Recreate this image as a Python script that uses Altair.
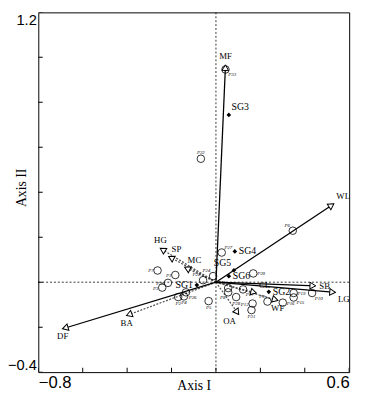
import altair as alt
import pandas as pd
import numpy as np

# ---- environmental vectors (biplot arrows) ----
vec_names = ["MF", "WL", "DF", "LG", "SB", "HG", "SP", "MC", "BA", "OA", "CL", "WF"]
vec_x = [0.043, 0.530, -0.690, 0.537, 0.448, -0.250, -0.212, -0.140, -0.402, 0.102, 0.181, 0.278]
vec_y = [0.966, 0.348, -0.207, -0.045, -0.016, 0.150, 0.114, 0.066, -0.148, -0.143, -0.048, -0.081]
vec_kind = ["solid", "solid", "solid", "solid", "solid",
            "dotted", "dotted", "dotted", "dotted", "dotted", "dotted", "dotted"]
vec_side = ["t", "tr", "b", "br", "r", "t", "tr", "tr", "b", "bl", "tr", "b"]

# ---- sites (open circles) ----
site_names = ["P33", "P32", "P6", "P27", "P24", "P20", "P22", "P1", "P7", "P30", "P3", "P26",
              "P2", "P4", "P5", "P11", "P8", "P28", "P17", "P12", "P31", "P9", "P16", "P19",
              "P15", "P10"]
site_x = [0.043, -0.068, 0.346, 0.026, -0.013, 0.168, -0.058, -0.183, -0.263, -0.216, -0.242, -0.135,
          -0.170, -0.144, -0.033, 0.055, 0.055, 0.091, 0.122, 0.165, 0.160, 0.232, 0.301, 0.350,
          0.350, 0.433]
site_y = [0.946, 0.549, 0.229, 0.132, 0.027, 0.039, 0.009, 0.032, 0.052, -0.003, -0.024, -0.045,
          -0.066, -0.063, -0.084, -0.026, -0.045, -0.066, -0.032, -0.095, -0.124, -0.086, -0.091, -0.048,
          -0.068, -0.048]
site_side = ["br", "t", "tl", "tr", "tl", "r", "tl", "l", "l", "l", "l", "br",
             "b", "b", "b", "tl", "bl", "b", "br", "l", "b", "tl", "r", "r",
             "br", "br"]

# ---- species groups (filled diamonds) ----
sg_names = ["SG3", "SG4", "SG5", "SG6", "SG1", "SG2"]
sg_x = [0.058, 0.085, 0.081, 0.058, -0.086, 0.238]
sg_y = [0.744, 0.137, 0.053, 0.027, -0.013, -0.043]
sg_side = ["tr", "r", "tl", "r", "l", "r"]

# ---- axes ----
x_domain = [-0.8, 0.6]
y_domain = [-0.4, 1.2]
x_tick_values = [-0.8, -0.6, -0.4, -0.2, 0.0, 0.2, 0.4, 0.6]
y_tick_values = [-0.4, -0.2, 0.0, 0.2, 0.4, 0.6, 0.8, 1.0, 1.2]
x_label_values = [-0.8, 0.6]
y_label_values = [-0.4, 1.2]

SERIF = "Liberation Serif"
SANS = "Liberation Sans"

xs = alt.Scale(domain=x_domain, nice=False, zero=False)
ys = alt.Scale(domain=y_domain, nice=False, zero=False)
xaxis = alt.Axis(values=x_label_values, title="Axis I", grid=False, ticks=False, domain=False,
                 labelFlush=True, labelFont=SANS, labelFontSize=17, labelColor="black",
                 labelPadding=3, format=".1f",
                 titleFont=SERIF, titleFontSize=14, titleFontWeight="normal", titleColor="black",
                 titleX=159, titleY=18, titleBaseline="alphabetic", titleAlign="center")
yaxis = alt.Axis(values=y_label_values, title="Axis II", grid=False, ticks=False, domain=False,
                 labelFlush=True, labelFont=SANS, labelFontSize=15, labelColor="black",
                 labelPadding=2, format=".1f",
                 titleFont=SERIF, titleFontSize=14, titleFontWeight="normal", titleColor="black",
                 titleX=-17, titleY=179, titleAngle=270, titleBaseline="middle", titleAlign="center")


def X(f):
    return alt.X(f, type="quantitative", scale=xs, axis=xaxis)


def Y(f):
    return alt.Y(f, type="quantitative", scale=ys, axis=yaxis)


vec = pd.DataFrame({"name": vec_names, "x": vec_x, "y": vec_y, "kind": vec_kind, "side": vec_side})
vec["x0"] = 0.0
vec["y0"] = 0.0
length = np.sqrt(vec["x"] ** 2 + vec["y"] ** 2)
vec["hx"] = vec["x"] - 0.016 * vec["x"] / length
vec["hy"] = vec["y"] - 0.016 * vec["y"] / length
vec["angle"] = np.degrees(np.arctan2(vec["x"], vec["y"])) % 360

sites = pd.DataFrame({"name": site_names, "x": site_x, "y": site_y, "side": site_side})
sgs = pd.DataFrame({"name": sg_names, "x": sg_x, "y": sg_y, "side": sg_side})

zero = pd.DataFrame({"v": [0.0]})
xt = pd.DataFrame({"x": x_tick_values, "y": [y_domain[0]] * len(x_tick_values)})
yt = pd.DataFrame({"y": y_tick_values, "x": [x_domain[0]] * len(y_tick_values)})

layers = []
# dotted zero lines
layers.append(alt.Chart(zero).mark_rule(color="black", strokeWidth=0.8, strokeDash=[2, 2]).encode(x=X("v")))
layers.append(alt.Chart(zero).mark_rule(color="black", strokeWidth=0.8, strokeDash=[2, 2]).encode(y=Y("v")))
# inward ticks
layers.append(alt.Chart(xt).mark_tick(orient="vertical", size=9, thickness=1, color="black",
                                      opacity=1, clip=True).encode(x=X("x"), y=Y("y")))
layers.append(alt.Chart(yt).mark_tick(orient="horizontal", size=9, thickness=1, color="black",
                                      opacity=1, clip=True).encode(x=X("x"), y=Y("y")))
# arrow shafts
layers.append(alt.Chart(vec[vec.kind == "dotted"]).mark_rule(color="#555555", strokeWidth=1.3,
                                                             strokeDash=[2, 1.5]).encode(
    x=X("x0"), y=Y("y0"), x2="x", y2="y"))
layers.append(alt.Chart(vec[vec.kind == "solid"]).mark_rule(color="black", strokeWidth=1.3).encode(
    x=X("x0"), y=Y("y0"), x2="x", y2="y"))
# arrow heads
layers.append(alt.Chart(vec).mark_point(shape="triangle", filled=True, fill="white", stroke="black",
                                        strokeWidth=1, size=45, opacity=1).encode(
    x=X("hx"), y=Y("hy"), angle=alt.Angle("angle:Q", scale=None)))
# sites
layers.append(alt.Chart(sites).mark_point(shape="circle", filled=False, color="black",
                                          strokeWidth=0.8, size=60, opacity=1).encode(x=X("x"), y=Y("y")))
# groups
layers.append(alt.Chart(sgs).mark_point(shape="diamond", filled=True, color="black",
                                        size=22, opacity=1).encode(x=X("x"), y=Y("y")))

side_spec = {
    "r": (1, 0, "left", "middle"), "l": (-1, 0, "right", "middle"),
    "t": (0, -1, "center", "bottom"), "b": (0, 1, "center", "top"),
    "tr": (0.7, -0.7, "left", "bottom"), "tl": (-0.7, -0.7, "right", "bottom"),
    "br": (0.7, 0.7, "left", "top"), "bl": (-0.7, 0.7, "right", "top"),
}


def text_layers(df, off, size, style="normal"):
    out = []
    for s, (fx, fy, al, bl) in side_spec.items():
        sub = df[df.side == s]
        if len(sub) == 0:
            continue
        out.append(alt.Chart(sub).mark_text(dx=fx * off, dy=fy * off, align=al, baseline=bl,
                                            font=SERIF, fontSize=size, fontStyle=style,
                                            color="black").encode(x=X("x"), y=Y("y"), text="name:N"))
    return out


layers += text_layers(vec, 4, 9)
layers += text_layers(sites, 4, 5, "italic")
layers += text_layers(sgs, 4, 10)

chart = alt.layer(*layers).properties(
    width=318, height=368,
    autosize=alt.AutoSizeParams(type="none"),
    padding={"left": 31, "top": 0, "right": 8, "bottom": 23},
    background="white",
).configure_view(stroke="black", strokeWidth=1)

chart.save("out.html", embed_options={"renderer": "svg", "actions": False})
